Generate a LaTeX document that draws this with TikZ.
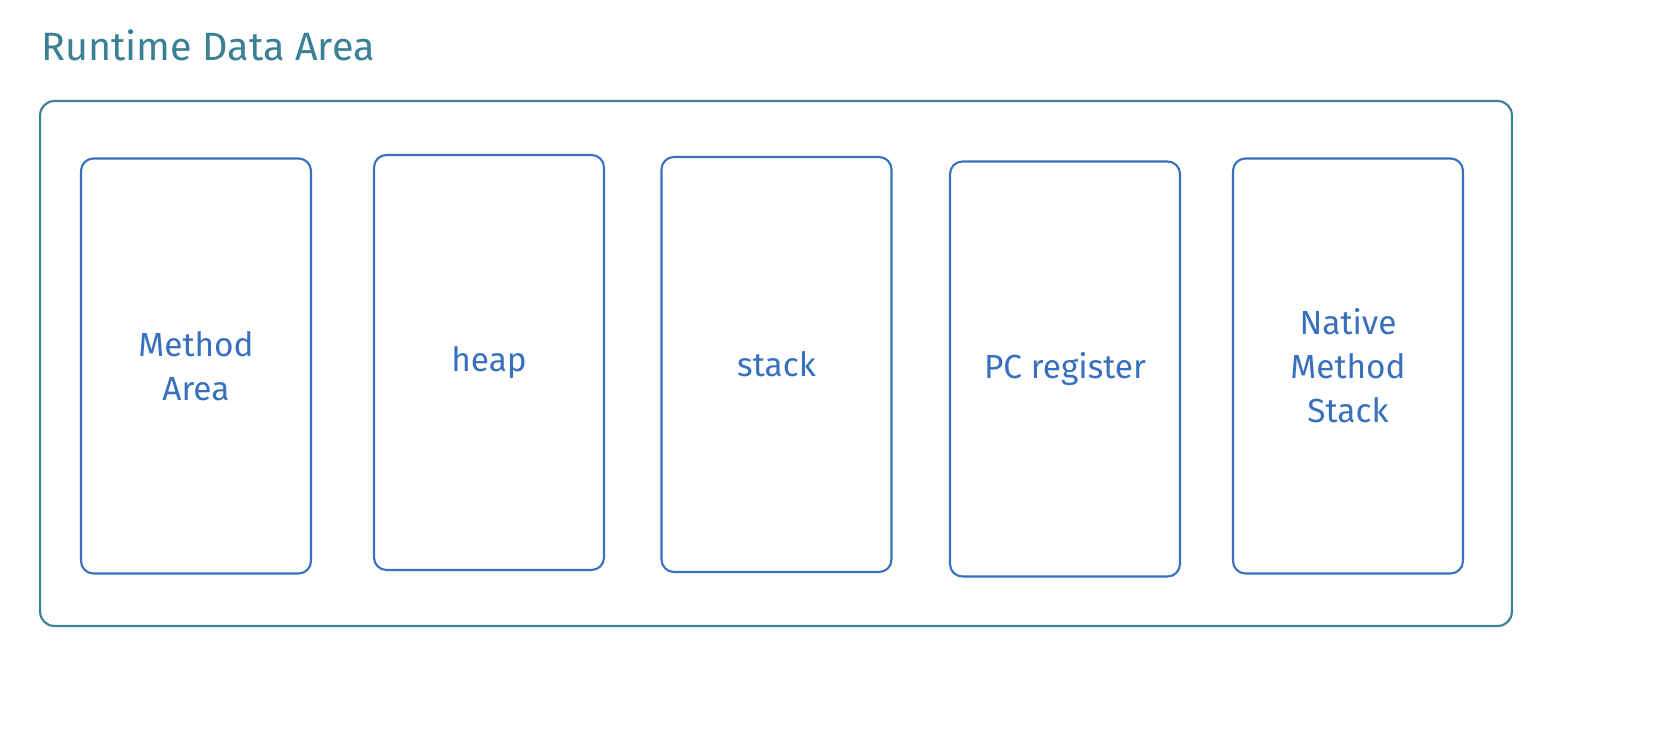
\documentclass[tikz,border=0pt]{standalone}
\usepackage{fontspec}
\setmainfont{Fira Sans}
\usetikzlibrary{positioning}

\definecolor{tealline}{RGB}{59,128,148}
\definecolor{blueline}{RGB}{56,112,190}

\begin{document}
\begin{tikzpicture}[x=0.02cm, y=-0.02cm]
		\useasboundingbox (0,0) rectangle (1660,736);

		% title and outer frame
		\node[text=tealline, font=\fontsize{22.5}{27}\selectfont, anchor=base west, inner sep=0pt] (title) at (41,61) {Runtime Data Area};
		\node[draw=tealline, line width=1.2pt, rounded corners=8pt, minimum width=29.44cm, minimum height=10.5cm] (runtime) at (776,363.5) {};

		\begin{scope}[every node/.style={draw=blueline, text=blueline, line width=1.2pt, rounded corners=7pt, minimum width=4.6cm, minimum height=8.3cm, align=center, font=\fontsize{19}{25}\selectfont}]
			\node (method) at (196,366) {Method\\Area};
			\node (heap) at (489,362.5) {heap};
			\node (stack) at (776.5,364.5) {stack};
			\node (pc) at (1065,369) {PC register};
			\node (native) at (1348,366) {Native\\Method\\Stack};
		\end{scope}
		\end{tikzpicture}
\end{document}
